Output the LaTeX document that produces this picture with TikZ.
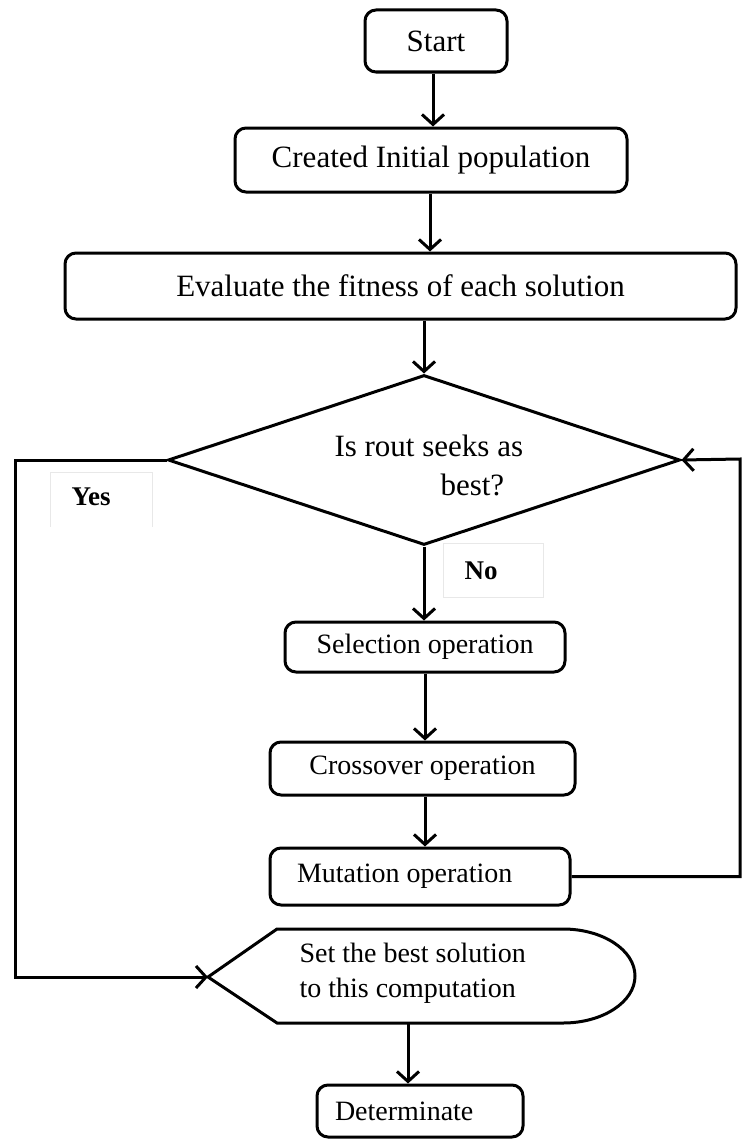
\documentclass[tikz,border=0pt]{standalone}
\usepackage{fontspec}
\setmainfont{Liberation Serif}
\usetikzlibrary{shapes.geometric,arrows.meta}

\tikzset{
  every node/.style={font=\fontsize{28}{35}\selectfont},
  bigtext/.style={font=\fontsize{31}{39}\selectfont},
  procbox/.style={draw, line width=3pt, rounded corners=11pt, inner sep=0pt},
  decision/.style={draw, diamond, line width=3pt, inner sep=0pt},
  tagbox/.style={draw=gray!18, line width=1pt},
  tagtext/.style={font=\fontsize{27}{30}\selectfont\bfseries},
  flow/.style={line width=3pt, -{Straight Barb[length=10pt,width=22pt]}}
}

\begin{document}
\begin{tikzpicture}[x=1pt,y=-1pt]
  \useasboundingbox (0,0) rectangle (742,1140);

  % main process column
  \node[procbox, bigtext, minimum width=142pt, minimum height=62pt] (start) at (436,41) {Start};
  \node[procbox, bigtext, minimum width=392pt, minimum height=64pt] (init) at (431,160) {Created Initial population};
  \node[procbox, bigtext, minimum width=671pt, minimum height=66pt] (eval) at (400.5,286) {Evaluate the fitness of each solution};

  % decision
  \node[decision, minimum width=512pt, minimum height=170pt] (test) at (424,460) {};
  \node[bigtext, anchor=west, align=left] (testtxt) at (331,465) {Is rout seeks as\\\hspace*{106pt}best?};

  % yes / no tags
  \draw[tagbox] (50,527) -- (50,472) -- (152,472) -- (152,527);
  \node[tagtext] (yes) at (91,497) {Yes};
  \draw[tagbox] (443,543) rectangle (543,597);
  \node[tagtext] (no) at (481,571) {No};

  % genetic operators
  \node[procbox, minimum width=280pt, minimum height=50pt] (sel) at (425,647) {Selection operation};
  \node[procbox, minimum width=305pt, minimum height=53pt] (cross) at (422.5,768.5) {Crossover operation};
  \node[procbox, minimum width=300pt, minimum height=57pt] (mut) at (420,876.5) {\makebox[246pt][l]{Mutation operation}};

  % display (result) shape
  \coordinate (dispw) at (208,977);
  \coordinate (disps) at (408,1023);
  \draw[line width=3pt] (dispw) -- (277,929) -- (563,929)
    arc[start angle=90, end angle=-90, x radius=72pt, y radius=47pt]
    -- (277,1023) -- cycle;
  \node[anchor=west, align=left] (disptxt) at (296,973) {Set the best solution\\to this computation};

  % end
  \node[procbox, minimum width=206pt, minimum height=52pt] (finish) at (420,1111) {\makebox[170pt][l]{Determinate}};

  % connectors
  \draw[flow] (start.south -| 433,0) -- (init.north -| 433,0);
  \draw[flow] (init.south -| 430,0) -- (eval.north -| 430,0);
  \draw[flow] (eval.south -| test.north) -- (test.north);
  \draw[flow] (test.south) -- (sel.north -| test.south);
  \draw[flow] (sel.south) -- (cross.north -| sel.south);
  \draw[flow] (cross.south -| 425,0) -- (mut.north -| 425,0);
  \draw[flow] (mut.east) -- (740,876.5) -- (740,459) -- (test.east);
  \draw[flow] (test.west) -- (15,460) -- (15,977) -- (dispw);
  \draw[flow] (disps) -- (finish.north -| disps);
\end{tikzpicture}
\end{document}
